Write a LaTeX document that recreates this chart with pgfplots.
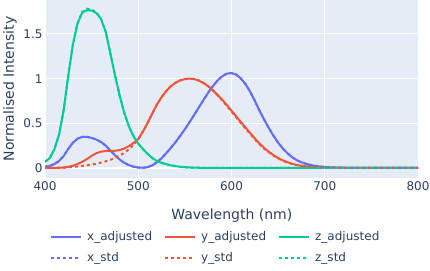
\documentclass[border=0pt]{standalone}
\usepackage{fontspec}
\setmainfont{DejaVu Sans}
\usepackage{pgfplots}
\pgfplotsset{compat=1.18}
\usepackage{pgfplotstable}
\definecolor{pblue}{HTML}{636EFA}
\definecolor{pred}{HTML}{EF553B}
\definecolor{pgreen}{HTML}{00CC96}
\definecolor{pbg}{HTML}{E5ECF6}
\definecolor{ptext}{HTML}{2A3F5F}

\pgfplotstableread{
lam xa ya za xs ys zs
400 0.01431 0.0004 0.06785 0.01431 0.000396 0.06785
405 0.02319 0.0008 0.1102 0.02319 0.00064 0.1102
410 0.04351 0.0015 0.2074 0.04351 0.00121 0.2074
415 0.07763 0.003 0.3713 0.07763 0.00218 0.3713
420 0.13438 0.006 0.6456 0.13438 0.004 0.6456
425 0.21477 0.013 1.03905 0.21477 0.0073 1.03905
430 0.2839 0.025 1.3856 0.2839 0.0116 1.3856
435 0.3285 0.045 1.62296 0.3285 0.01684 1.62296
440 0.34828 0.07 1.74 0.34828 0.023 1.74706
445 0.34806 0.1 1.765 0.34806 0.0298 1.7826
450 0.3362 0.135 1.762 0.3362 0.038 1.77211
455 0.3187 0.165 1.735 0.3187 0.048 1.7441
460 0.2908 0.183 1.6692 0.2908 0.06 1.6692
465 0.2511 0.19 1.5281 0.2511 0.0739 1.5281
470 0.19536 0.191 1.28764 0.19536 0.09098 1.28764
475 0.1421 0.193 1.0419 0.1421 0.1126 1.0419
480 0.09564 0.2 0.81295 0.09564 0.13902 0.81295
485 0.05795 0.218 0.6162 0.05795 0.1693 0.6162
490 0.03201 0.245 0.46518 0.03201 0.20802 0.46518
495 0.0147 0.28 0.3533 0.0147 0.2586 0.3533
500 0.0049 0.323 0.272 0.0049 0.323 0.272
505 0.0024 0.4073 0.2123 0.0024 0.4073 0.2123
510 0.0093 0.503 0.1582 0.0093 0.503 0.1582
515 0.0291 0.6082 0.1117 0.0291 0.6082 0.1117
520 0.06327 0.71 0.07825 0.06327 0.71 0.07825
525 0.1096 0.7932 0.05725 0.1096 0.7932 0.05725
530 0.1655 0.862 0.04216 0.1655 0.862 0.04216
535 0.22575 0.91485 0.02984 0.22575 0.91485 0.02984
540 0.2904 0.954 0.0203 0.2904 0.954 0.0203
545 0.3597 0.9803 0.0134 0.3597 0.9803 0.0134
550 0.43345 0.99495 0.00875 0.43345 0.99495 0.00875
555 0.51205 1.0 0.00575 0.51205 1.0 0.00575
560 0.5945 0.995 0.0039 0.5945 0.995 0.0039
565 0.6784 0.9786 0.00275 0.6784 0.9786 0.00275
570 0.7621 0.952 0.0021 0.7621 0.952 0.0021
575 0.8425 0.9154 0.0018 0.8425 0.9154 0.0018
580 0.9163 0.87 0.00165 0.9163 0.87 0.00165
585 0.9786 0.818 0.0014 0.9786 0.8163 0.0014
590 1.0263 0.765 0.0011 1.0263 0.757 0.0011
595 1.0567 0.705 0.001 1.0567 0.6949 0.001
600 1.0622 0.642 0.0008 1.0622 0.631 0.0008
605 1.0456 0.579 0.0006 1.0456 0.5668 0.0006
610 1.0026 0.515 0.00034 1.0026 0.503 0.00034
615 0.9384 0.453 0.00024 0.9384 0.4412 0.00024
620 0.85445 0.392 0.00019 0.85445 0.381 0.00019
625 0.7514 0.331 0.0001 0.7514 0.321 0.0001
630 0.6424 0.274 0.00005 0.6424 0.265 0.00005
635 0.5419 0.225 0.00003 0.5419 0.217 0.00003
640 0.4479 0.182 0.00002 0.4479 0.175 0.00002
645 0.3608 0.144 0.00001 0.3608 0.1382 0.00001
650 0.2835 0.112 0 0.2835 0.107 0
655 0.2187 0.086 0 0.2187 0.0816 0
660 0.1649 0.064 0 0.1649 0.061 0
665 0.1212 0.047 0 0.1212 0.04458 0
670 0.0874 0.034 0 0.0874 0.032 0
675 0.0636 0.025 0 0.0636 0.0232 0
680 0.04677 0.018 0 0.04677 0.017 0
685 0.0329 0.0126 0 0.0329 0.01192 0
690 0.0227 0.0087 0 0.0227 0.00821 0
695 0.01584 0.0060 0 0.01584 0.005723 0
700 0.011359 0.0042 0 0.011359 0.004102 0
710 0.00579 0.0021 0 0.00579 0.002091 0
720 0.002899 0.00105 0 0.002899 0.001047 0
730 0.00144 0.00052 0 0.00144 0.00052 0
740 0.00069 0.00025 0 0.00069 0.000249 0
750 0.000332 0.00012 0 0.000332 0.00012 0
760 0.000166 0.00006 0 0.000166 0.00006 0
770 0.000083 0.00003 0 0.000083 0.00003 0
780 0.000042 0.000015 0 0.000042 0.000015 0
790 0.00002 0.0000075 0 0.00002 0.0000075 0
800 0.00001 0.0000037 0 0.00001 0.0000037 0
}\cmftable

\begin{document}
\begin{tikzpicture}
\useasboundingbox (0,0) rectangle (430pt,270pt);
\begin{axis}[
  at={(45pt,92pt)}, anchor=south west,
  scale only axis, width=373pt, height=178pt,
  xmin=400, xmax=800, ymin=-0.112, ymax=1.88,
  axis background/.style={fill=pbg},
  axis line style={draw=none},
  tick style={draw=none},
  grid=major, major grid style={white, line width=1pt},
  xtick={400,500,600,700,800},
  ytick={0,0.5,1,1.5}, yticklabels={0,0.5,1,1.5},
  /pgf/number format/assume math mode=true,
  ticklabel style={font=\fontsize{12}{14}\selectfont, text=ptext},
  yticklabel style={xshift=1pt},
  xlabel={Wavelength (nm)},
  ylabel={Normalised Intensity},
  label style={font=\fontsize{14}{16}\selectfont, text=ptext},
  xlabel style={at={(axis description cs:0.501,-0.21)}, anchor=center},
  ylabel style={at={(axis description cs:-0.0938,0.5)}, anchor=center},
  legend columns=3,
  legend cell align=left,
  legend image code/.code={\draw[#1] (0pt,0pt) -- (30pt,0pt);},
  legend style={at={(axis description cs:0.0134,-0.29)}, anchor=north west,
    draw=none, fill=none, font=\fontsize{12}{14}\selectfont, text=ptext,
    column sep=5pt, row sep=6pt, inner sep=0pt,
    nodes={inner xsep=0pt},
    /tikz/every even column/.append style={column sep=7pt}},
]
\addplot[white, line width=2pt, forget plot] coordinates {(400,0) (800,0)};
\addplot[pblue, line width=2pt] table[x=lam, y=xa] {\cmftable};
\addlegendentry{\makebox[70pt][l]{x\_adjusted}}
\addplot[pred, line width=2pt] table[x=lam, y=ya] {\cmftable};
\addlegendentry{\makebox[70pt][l]{y\_adjusted}}
\addplot[pgreen, line width=2pt] table[x=lam, y=za] {\cmftable};
\addlegendentry{\makebox[70pt][l]{z\_adjusted}}
\addplot[pblue, line width=2pt, dash pattern=on 3pt off 3pt] table[x=lam, y=xs] {\cmftable};
\addlegendentry{\makebox[70pt][l]{x\_std}}
\addplot[pred, line width=2pt, dash pattern=on 3pt off 3pt] table[x=lam, y=ys] {\cmftable};
\addlegendentry{\makebox[70pt][l]{y\_std}}
\addplot[pgreen, line width=2pt, dash pattern=on 3pt off 3pt] table[x=lam, y=zs] {\cmftable};
\addlegendentry{\makebox[70pt][l]{z\_std}}
\end{axis}
\end{tikzpicture}
\end{document}
